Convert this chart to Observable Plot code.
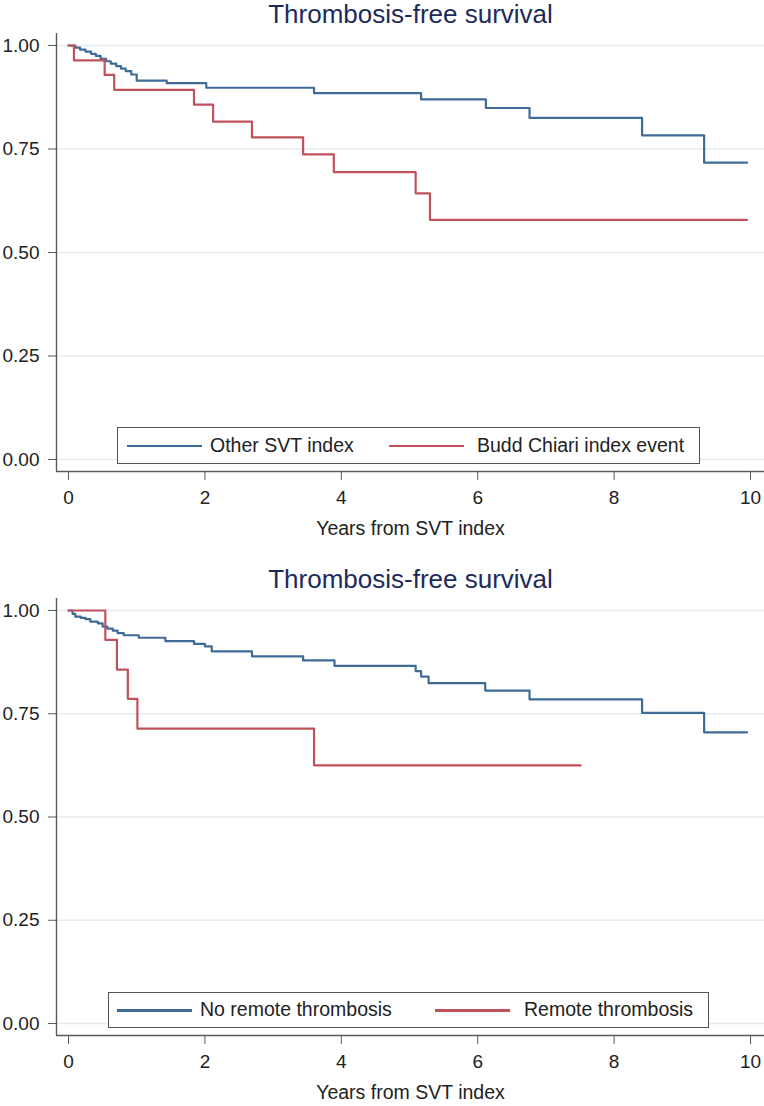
<!DOCTYPE html>
<html><head><meta charset="utf-8">
<script src="https://cdn.jsdelivr.net/npm/d3@7"></script>
<script src="https://cdn.jsdelivr.net/npm/@observablehq/plot@0.6"></script>
<style>
body{margin:0;background:#fff;font-family:"Liberation Sans",Arial,sans-serif;}
.panel{position:relative;width:764px;}
.legend{position:absolute;border:1.5px solid #555;background:#fff;box-sizing:border-box;}
.legend .sw{position:absolute;top:50%;height:2.5px;width:75px;margin-top:-1px;}
.legend .lb{position:absolute;top:50%;transform:translateY(-52%);font-size:19.5px;color:#222;white-space:nowrap;}
</style></head><body><div id="chart"></div>
<script>
// ---- data ----
const title = "Thrombosis-free survival";
const xLabel = "Years from SVT index";
const xTicks = [0, 2, 4, 6, 8, 10];
const yTicks = [0, 0.25, 0.5, 0.75, 1];

// Panel 1
const p1Names = ["Other SVT index", "Budd Chiari index event"];
const p1OtherTime = [0, 0.10, 0.17, 0.25, 0.33, 0.40, 0.47, 0.55, 0.62, 0.70, 0.77, 0.84, 0.92, 1.00, 1.44, 2.02, 3.60, 5.17, 6.12, 6.76, 8.41, 9.32, 9.95];
const p1OtherSurv = [1, 0.995, 0.990, 0.985, 0.980, 0.975, 0.968, 0.962, 0.956, 0.950, 0.944, 0.938, 0.930, 0.915, 0.909, 0.898, 0.885, 0.870, 0.849, 0.825, 0.783, 0.717, 0.717];
const p1BuddTime = [0, 0.08, 0.53, 0.67, 1.84, 2.12, 2.69, 3.44, 3.89, 5.09, 5.30, 9.95];
const p1BuddSurv = [1, 0.964, 0.929, 0.893, 0.857, 0.816, 0.778, 0.737, 0.694, 0.643, 0.579, 0.579];

// Panel 2
const p2Names = ["No remote thrombosis", "Remote thrombosis"];
const p2NoTime = [0, 0.06, 0.10, 0.18, 0.25, 0.32, 0.43, 0.50, 0.57, 0.65, 0.72, 0.81, 1.03, 1.42, 1.84, 2.00, 2.10, 2.69, 3.44, 3.90, 5.09, 5.17, 5.28, 6.11, 6.76, 8.41, 9.32, 9.95];
const p2NoSurv = [1, 0.992, 0.985, 0.982, 0.979, 0.973, 0.969, 0.961, 0.956, 0.951, 0.945, 0.940, 0.934, 0.926, 0.919, 0.913, 0.901, 0.889, 0.879, 0.866, 0.853, 0.840, 0.824, 0.806, 0.785, 0.752, 0.705, 0.705];
const p2RemTime = [0, 0.54, 0.71, 0.87, 1.01, 3.60, 7.51];
const p2RemSurv = [1, 0.929, 0.857, 0.786, 0.714, 0.625, 0.625];

const colors = ["#3f6c96", "#c0525c"];

// ---- build ----
const xDomain = [-0.176, 10.205];
const yDomain = [-0.029, 1.029];

function series(name, t, s) { return t.map((d, i) => ({name, t: d, s: s[i]})); }

function panel(names, data, h, mb, legend) {
  const wrap = document.createElement("div");
  wrap.className = "panel";
  const plot = Plot.plot({
    width: 764, height: h,
    marginLeft: 56, marginRight: 0, marginTop: 33, marginBottom: mb,
    style: {fontFamily: '"Liberation Sans", Arial, sans-serif', background: "#fff", overflow: "visible"},
    x: {domain: xDomain},
    y: {domain: yDomain},
    color: {domain: names, range: colors},
    marks: [
      Plot.gridY(yTicks, {stroke: "#e4ebf2", strokeOpacity: 1, strokeWidth: 1.3}),
      Plot.ruleX([xDomain[0]], {stroke: "#5a5a5a", strokeWidth: 1.4}),
      Plot.ruleY([yDomain[0]], {stroke: "#5a5a5a", strokeWidth: 1.4}),
      Plot.axisY(yTicks, {tickFormat: d3.format(".2f"), tickSize: 8, tickPadding: 9, fontSize: 19, stroke: "#5a5a5a", fill: "#222", label: null}),
      Plot.axisX(xTicks, {tickSize: 9, tickPadding: 10, fontSize: 19, stroke: "#5a5a5a", fill: "#222", label: null}),
      Plot.line(data, {x: "t", y: "s", z: "name", stroke: "name", curve: "step-after", strokeWidth: 2.2}),
      Plot.text([title], {frameAnchor: "top", dy: -19, fontSize: 26, fill: "#1c2b5a", lineAnchor: "middle"}),
      Plot.text([xLabel], {frameAnchor: "bottom", dy: 57, fontSize: 19.5, fill: "#222", lineAnchor: "middle"})
    ]
  });
  wrap.appendChild(plot);
  const lg = document.createElement("div");
  lg.className = "legend";
  Object.assign(lg.style, {left: legend.box[0] + "px", top: legend.box[1] + "px", width: legend.box[2] + "px", height: legend.box[3] + "px"});
  names.forEach((n, i) => {
    const sw = document.createElement("div");
    sw.className = "sw"; sw.style.left = legend.sw[i] + "px"; sw.style.background = colors[i];
    const lb = document.createElement("div");
    lb.className = "lb"; lb.style.left = legend.lb[i] + "px"; lb.textContent = n;
    lg.appendChild(sw); lg.appendChild(lb);
  });
  wrap.appendChild(lg);
  return wrap;
}

const chart = document.getElementById("chart");
chart.appendChild(panel(p1Names,
  [...series(p1Names[0], p1OtherTime, p1OtherSurv), ...series(p1Names[1], p1BuddTime, p1BuddSurv)],
  565, 94, {box: [117, 427, 583, 37], sw: [9, 271], lb: [92, 359]}));
chart.appendChild(panel(p2Names,
  [...series(p2Names[0], p2NoTime, p2NoSurv), ...series(p2Names[1], p2RemTime, p2RemSurv)],
  541, 71, {box: [108, 427, 601, 36], sw: [8, 326], lb: [91, 415]}));
</script></body></html>
